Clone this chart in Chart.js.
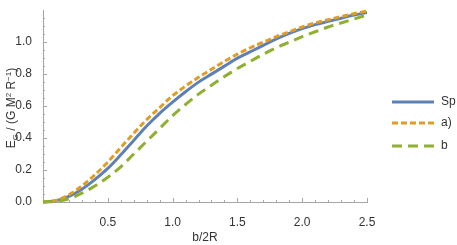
<!DOCTYPE html>
<html>
<head>
<meta charset="utf-8">
<script src="https://cdn.jsdelivr.net/npm/chart.js@4"></script>
<style>
  html, body { margin: 0; padding: 0; background: #fff; }
  #wrap { width: 457px; height: 245px; }
</style>
</head>
<body>
<div id="wrap"><canvas id="energyChart" width="457" height="245"></canvas></div>
<script>
// data
const bValues = [0, 0.1, 0.2, 0.3, 0.4, 0.5, 0.6, 0.7, 0.8, 0.9, 1.0, 1.1, 1.2, 1.3,
                 1.4, 1.5, 1.6, 1.7, 1.8, 1.9, 2.0, 2.1, 2.2, 2.3, 2.4, 2.5];
const spValues = [0, 0.008, 0.035, 0.08, 0.14, 0.21, 0.295, 0.385, 0.475, 0.555, 0.625, 0.69, 0.75, 0.80,
                  0.85, 0.90, 0.94, 0.98, 1.02, 1.055, 1.085, 1.11, 1.13, 1.15, 1.17, 1.185];
const aValues = [0, 0.01, 0.045, 0.10, 0.17, 0.25, 0.34, 0.43, 0.515, 0.59, 0.665, 0.725, 0.78, 0.83,
                 0.88, 0.925, 0.965, 1.0, 1.035, 1.065, 1.095, 1.12, 1.14, 1.16, 1.178, 1.195];
const bSeries = [0, 0.004, 0.02, 0.055, 0.10, 0.155, 0.22, 0.30, 0.38, 0.46, 0.54, 0.61, 0.675, 0.73,
                 0.785, 0.835, 0.88, 0.925, 0.965, 1.0, 1.035, 1.065, 1.095, 1.12, 1.145, 1.17];
const seriesLabels = ['Sp', 'a)', 'b'];
const xTickLabels = [0.5, 1.0, 1.5, 2.0, 2.5];
const yTickLabels = [0, 0.2, 0.4, 0.6, 0.8, 1.0];

const FONT = '"Liberation Sans", Arial, sans-serif';
const AXIS_COLOR = '#a6a6a6';
const TEXT_COLOR = '#333333';

function toPoints(ys) {
    return bValues.map((x, i) => ({ x: x, y: ys[i] }));
}

// inward ticks (major + minor) like the original plot
const tickMarks = {
    id: 'tickMarks',
    afterDraw(chart) {
        const { ctx, chartArea, scales } = chart;
        const { x, y } = scales;
        ctx.save();
        ctx.strokeStyle = AXIS_COLOR;
        ctx.lineWidth = 1;
        for (let i = 1; i <= 25; i++) {
            const v = i / 10;
            const px = Math.round(x.getPixelForValue(v)) + 0.5;
            const len = (i % 5 === 0) ? 4 : 2;
            ctx.beginPath();
            ctx.moveTo(px, chartArea.bottom);
            ctx.lineTo(px, chartArea.bottom - len);
            ctx.stroke();
        }
        for (let i = 1; i <= 23; i++) {
            const v = i / 20;
            const py = Math.round(y.getPixelForValue(v)) + 0.5;
            const len = (i % 4 === 0) ? 4 : 2;
            ctx.beginPath();
            ctx.moveTo(chartArea.left, py);
            ctx.lineTo(chartArea.left + len, py);
            ctx.stroke();
        }
        ctx.restore();
    }
};

// y title with sub/superscripts, and the legend on the right
const extras = {
    id: 'extras',
    afterDraw(chart) {
        const { ctx } = chart;
        ctx.save();
        ctx.fillStyle = TEXT_COLOR;
        ctx.textBaseline = 'alphabetic';
        const parts = [
            ['E', 12, 0], ['G', 8, 3], [' / (G M', 12, 0], ['2', 8, -4],
            [' R', 12, 0], ['\u22121', 8, -4], [')', 12, 0]
        ];
        let total = 0;
        parts.forEach(p => { ctx.font = p[1] + 'px ' + FONT; total += ctx.measureText(p[0]).width; });
        ctx.translate(15, 108);
        ctx.rotate(-Math.PI / 2);
        let cx = -total / 2;
        parts.forEach(p => {
            ctx.font = p[1] + 'px ' + FONT;
            ctx.fillText(p[0], cx, p[2]);
            cx += ctx.measureText(p[0]).width;
        });
        ctx.restore();

        ctx.save();
        const rows = [102, 123, 146];
        chart.data.datasets.forEach((ds, i) => {
            const yy = rows[i];
            ctx.strokeStyle = ds.borderColor;
            ctx.lineWidth = 3;
            ctx.setLineDash(ds.borderDash || []);
            ctx.beginPath();
            ctx.moveTo(392, yy);
            ctx.lineTo(434, yy);
            ctx.stroke();
            ctx.setLineDash([]);
            ctx.fillStyle = TEXT_COLOR;
            ctx.font = '12px ' + FONT;
            ctx.textBaseline = 'middle';
            ctx.fillText(ds.label, 441, yy);
        });
        ctx.restore();
    }
};

const data = {
    datasets: [{
        label: seriesLabels[0],
        data: toPoints(spValues),
        borderColor: '#5e81b5',
        borderWidth: 3,
        order: 3,
    }, {
        label: seriesLabels[1],
        data: toPoints(aValues),
        borderColor: '#e19c24',
        borderWidth: 3,
        borderDash: [6, 3],
        order: 2,
    }, {
        label: seriesLabels[2],
        data: toPoints(bSeries),
        borderColor: '#8fb032',
        borderWidth: 3,
        borderDash: [10, 6],
        order: 1,
    }]
};

const config = {
    type: 'line',
    data,
    options: {
        responsive: false,
        animation: false,
        layout: { padding: { left: 0, right: 90, top: 2, bottom: 0 } },
        elements: {
            point: { radius: 0 },
            line: { tension: 0.4, cubicInterpolationMode: 'monotone', fill: false }
        },
        clip: false,
        plugins: {
            legend: { display: false },
            tooltip: { enabled: false },
        },
        scales: {
            x: {
                type: 'linear',
                min: 0,
                max: 2.5,
                grid: { display: false },
                border: { display: true, color: AXIS_COLOR, width: 1 },
                afterBuildTicks: (scale) => { scale.ticks = xTickLabels.map(v => ({ value: v })); },
                afterFit: (scale) => { scale.height = 43; },
                ticks: {
                    color: TEXT_COLOR,
                    font: { family: FONT, size: 12 },
                    padding: 5,
                    maxRotation: 0,
                    callback: (v) => v.toFixed(1),
                },
                title: {
                    display: true,
                    text: 'b/2R',
                    color: TEXT_COLOR,
                    font: { family: FONT, size: 12 },
                    padding: { top: 0, bottom: 0 },
                }
            },
            y: {
                type: 'linear',
                min: 0,
                max: 1.2,
                grid: { display: false },
                border: { display: true, color: AXIS_COLOR, width: 1 },
                afterBuildTicks: (scale) => { scale.ticks = yTickLabels.map(v => ({ value: v })); },
                afterFit: (scale) => { scale.width = 43; },
                ticks: {
                    color: TEXT_COLOR,
                    font: { family: FONT, size: 12 },
                    padding: 3,
                    callback: (v) => v.toFixed(1),
                }
            }
        }
    },
    plugins: [tickMarks, extras]
};

const energyChart = new Chart(document.getElementById('energyChart'), config);
</script>
</body>
</html>
